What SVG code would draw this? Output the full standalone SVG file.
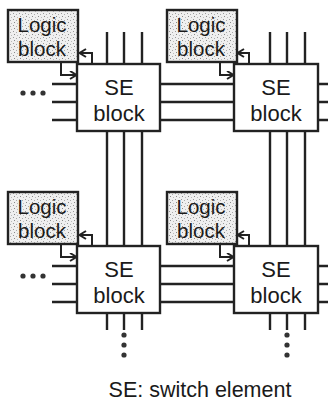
<svg xmlns="http://www.w3.org/2000/svg" width="328" height="405" viewBox="0 0 328 405">
<defs>
<pattern id="stip" width="6" height="6" patternUnits="userSpaceOnUse">
<rect width="6" height="6" fill="#efefef"/>
<rect x="1" y="1" width="1" height="1" fill="#999"/>
<rect x="4" y="2" width="1" height="1" fill="#aaa"/>
<rect x="2" y="4" width="1" height="1" fill="#888"/>
<rect x="5" y="5" width="1" height="1" fill="#bbb"/>
</pattern>
<marker id="arr" markerWidth="10" markerHeight="10" refX="7" refY="4.5" orient="auto" markerUnits="userSpaceOnUse">
<path d="M1,0.5 L7.5,4.5 L1,8.5" fill="none" stroke="#222" stroke-width="2"/>
</marker>
</defs>
<style>
.ln{stroke:#222;stroke-width:2.4;fill:none}
.lg{fill:url(#stip);stroke:#222;stroke-width:2.4}
.se{fill:#fff;stroke:#222;stroke-width:2.4}
.t{font-family:"Liberation Sans",Arial,sans-serif;fill:#1a1a1a;text-anchor:middle}
.tl{font-size:20.5px}
.ts{font-size:22px}
.ar{stroke:#222;stroke-width:2;fill:none;marker-end:url(#arr)}
.dot{fill:#333}
</style>
<g id="connectors">
<path class="ln" d="M52,84H77M52,102H77M52,120H77"/>
<path class="ln" d="M160,84H234M160,102H234M160,120H234"/>
<path class="ln" d="M318,84H328M318,102H328M318,120H328"/>
<path class="ln" d="M52,266H77M52,284H77M52,302H77"/>
<path class="ln" d="M160,266H234M160,284H234M160,302H234"/>
<path class="ln" d="M318,266H328M318,284H328M318,302H328"/>
<path class="ln" d="M107,32V64M124,32V64M142,32V64"/>
<path class="ln" d="M107,131V246M124,131V246M142,131V246"/>
<path class="ln" d="M107,313V330M124,313V330M142,313V330"/>
<path class="ln" d="M270,32V64M287,32V64M305,32V64"/>
<path class="ln" d="M270,131V246M287,131V246M305,131V246"/>
<path class="ln" d="M270,313V330M287,313V330M305,313V330"/>
<path class="ar" d="M92,64V53H80"/>
<path class="ar" d="M61,62V75H76"/>
<path class="ar" d="M249,64V53H238"/>
<path class="ar" d="M220,62V75H233"/>
<path class="ar" d="M92,246V235H80"/>
<path class="ar" d="M61,244V257H76"/>
<path class="ar" d="M249,246V235H238"/>
<path class="ar" d="M220,244V257H233"/>
<circle class="dot" cx="23" cy="93" r="2.6"/>
<circle class="dot" cx="33" cy="93" r="2.6"/>
<circle class="dot" cx="43" cy="93" r="2.6"/>
<circle class="dot" cx="23" cy="276" r="2.6"/>
<circle class="dot" cx="33" cy="276" r="2.6"/>
<circle class="dot" cx="43" cy="276" r="2.6"/>
<circle class="dot" cx="124" cy="335" r="2.6"/>
<circle class="dot" cx="124" cy="345" r="2.6"/>
<circle class="dot" cx="124" cy="355" r="2.6"/>
<circle class="dot" cx="287" cy="335" r="2.6"/>
<circle class="dot" cx="287" cy="345" r="2.6"/>
<circle class="dot" cx="287" cy="355" r="2.6"/>
</g>
<g id="logic1"><rect class="lg" x="8" y="10" width="70" height="52"/><text class="t tl" x="42" y="32">Logic</text><text class="t tl" x="42" y="56">block</text></g>
<g id="logic2"><rect class="lg" x="167" y="10" width="70" height="52"/><text class="t tl" x="201" y="32">Logic</text><text class="t tl" x="201" y="56">block</text></g>
<g id="logic3"><rect class="lg" x="8" y="192" width="70" height="52"/><text class="t tl" x="42" y="214">Logic</text><text class="t tl" x="42" y="238">block</text></g>
<g id="logic4"><rect class="lg" x="167" y="192" width="70" height="52"/><text class="t tl" x="201" y="214">Logic</text><text class="t tl" x="201" y="238">block</text></g>
<g id="se1"><rect class="se" x="77" y="64" width="83" height="67"/><text class="t ts" x="119" y="95">SE</text><text class="t ts" x="119" y="121">block</text></g>
<g id="se2"><rect class="se" x="234" y="64" width="84" height="67"/><text class="t ts" x="276" y="95">SE</text><text class="t ts" x="276" y="121">block</text></g>
<g id="se3"><rect class="se" x="77" y="246" width="83" height="67"/><text class="t ts" x="119" y="277">SE</text><text class="t ts" x="119" y="303">block</text></g>
<g id="se4"><rect class="se" x="234" y="246" width="84" height="67"/><text class="t ts" x="276" y="277">SE</text><text class="t ts" x="276" y="303">block</text></g>
<text class="t" x="200" y="397" font-size="21.5">SE: switch element</text>
</svg>
